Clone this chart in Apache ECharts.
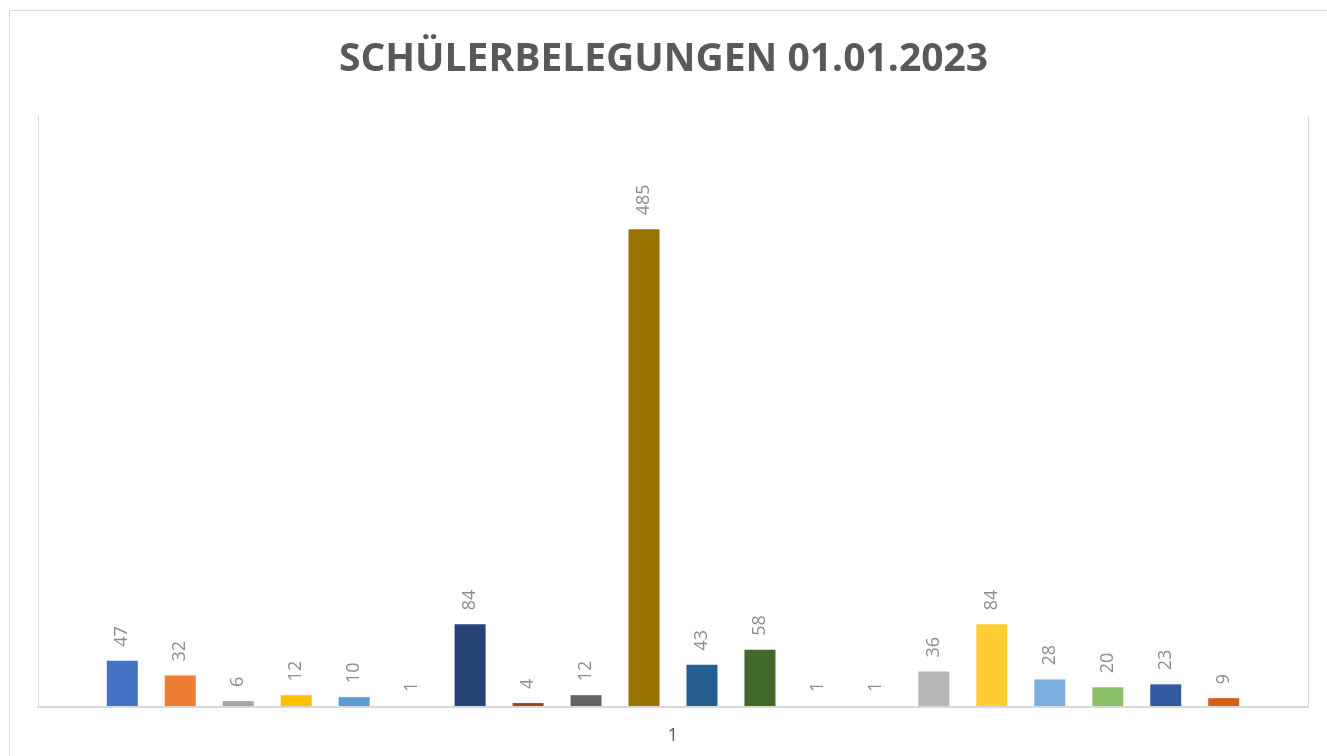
<!DOCTYPE html>
<html>
<head>
<meta charset="utf-8">
<script src="https://cdn.jsdelivr.net/npm/echarts@6/dist/echarts.min.js"></script>
<style>
	html, body { margin: 0; padding: 0; background: #fff; }
	#chart { width: 1327px; height: 756px; }
</style>
</head>
<body>
<div id="chart"></div>
<script>
// Kategorie (nur eine) und Werte je Reihe
var categories = ['1'];
var seriesNames = ['Reihe1', 'Reihe2', 'Reihe3', 'Reihe4', 'Reihe5', 'Reihe6', 'Reihe7', 'Reihe8', 'Reihe9', 'Reihe10',
	'Reihe11', 'Reihe12', 'Reihe13', 'Reihe14', 'Reihe15', 'Reihe16', 'Reihe17', 'Reihe18', 'Reihe19', 'Reihe20'];
var values = [47, 32, 6, 12, 10, 1, 84, 4, 12, 485, 43, 58, 1, 1, 36, 84, 28, 20, 23, 9];
var colors = ['#4472C4', '#ED7D31', '#A5A5A5', '#FFC000', '#5B9BD5', '#70AD47', '#264478', '#9E480E', '#636363', '#997300',
	'#255E91', '#43682B', '#698ED0', '#F1975A', '#B7B7B7', '#FFCD33', '#7CAFDD', '#8CC168', '#335AA1', '#D26012'];

var chart = echarts.init(document.getElementById('chart'));

var series = [];
for (var i = 0; i < values.length; i++) {
	series.push({
		name: seriesNames[i],
		type: 'bar',
		data: [values[i]],
		barWidth: 31,
		barGap: '87%',
		itemStyle: { color: colors[i] },
		label: {
			show: true,
			position: 'top',
			rotate: 90,
			align: 'left',
			verticalAlign: 'middle',
			distance: 14,
			color: '#8c8c8c',
			fontSize: 18,
			fontFamily: 'Open Sans'
		}
	});
}

var option = {
	animation: false,
	color: colors,
	title: {
		text: 'SCHÜLERBELEGUNGEN 01.01.2023',
		left: 'center',
		top: 35,
		textStyle: {
			color: '#595959',
			fontSize: 39,
			fontWeight: 'bold',
			fontFamily: 'Open Sans'
		}
	},
	graphic: [{
		type: 'rect',
		shape: { x: 9.5, y: 10.5, width: 1340, height: 780 },
		style: { fill: 'none', stroke: '#d9d9d9', lineWidth: 1 },
		silent: true
	}],
	grid: { left: 38, right: 19, top: 116, bottom: 49 },
	xAxis: {
		type: 'category',
		data: categories,
		z: 5,
		axisLine: { lineStyle: { color: '#d9d9d9', width: 2 } },
		axisTick: { show: false },
		axisLabel: { color: '#595959', fontSize: 18, fontFamily: 'Open Sans', margin: 20 },
		splitLine: { show: true, lineStyle: { color: '#d9d9d9', width: 1 } }
	},
	yAxis: {
		type: 'value',
		min: 0,
		max: 600,
		show: false,
		splitLine: { show: false }
	},
	series: series
};

chart.setOption(option);
</script>
</body>
</html>
